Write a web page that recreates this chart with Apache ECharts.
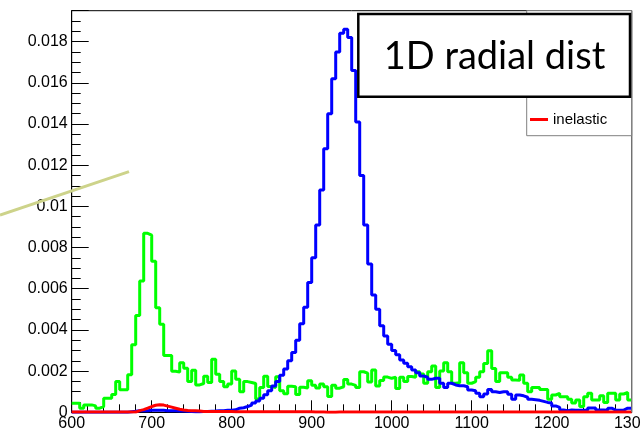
<!DOCTYPE html>
<html>
<head>
<meta charset="utf-8">
<script src="https://cdn.jsdelivr.net/npm/echarts@6/dist/echarts.min.js"></script>
<style>
  html, body { margin: 0; padding: 0; background: #fff; overflow: hidden; }
  /* slightly wider than the window so the last x label gets cut like the original */
  #main { width: 660px; height: 441px; }
</style>
</head>
<body>
<div id="main"></div>
<script>
// histogram bins: 5 units wide, lower edges from 600 to 1295
var binStart = 600;
var binWidth = 5;

var green = [
  0.00044, 0.00044, 0.00020, 0.00036, 0.00036, 0.00031, 0.00020, 0.00028, 0.00068, 0.00068,
  0.00087, 0.00149, 0.00109, 0.00109, 0.00182, 0.00328, 0.00470, 0.00637, 0.00869, 0.00860,
  0.00734, 0.00508, 0.00427, 0.00276, 0.00276, 0.00199, 0.00195, 0.00240, 0.00214, 0.00149,
  0.00204, 0.00133, 0.00140, 0.00175, 0.00145, 0.00257, 0.00185, 0.00149, 0.00124, 0.00137,
  0.00200, 0.00160, 0.00100, 0.00149, 0.00145, 0.00140, 0.00065, 0.00120, 0.00175, 0.00125,
  0.00120, 0.00173, 0.00105, 0.00090, 0.00126, 0.00124, 0.00086, 0.00122, 0.00118, 0.00153,
  0.00131, 0.00118, 0.00137, 0.00124, 0.00077, 0.00131, 0.00117, 0.00124, 0.00159, 0.00137,
  0.00131, 0.00120, 0.00197, 0.00190, 0.00147, 0.00205, 0.00128, 0.00155, 0.00171, 0.00165,
  0.00170, 0.00116, 0.00170, 0.00149, 0.00174, 0.00170, 0.00197, 0.00186, 0.00141, 0.00197,
  0.00225, 0.00121, 0.00200, 0.00241, 0.00197, 0.00141, 0.00144, 0.00241, 0.00192, 0.00141,
  0.00149, 0.00170, 0.00197, 0.00237, 0.00299, 0.00213, 0.00149, 0.00192, 0.00192, 0.00170,
  0.00157, 0.00155, 0.00181, 0.00141, 0.00100, 0.00121, 0.00121, 0.00111, 0.00111, 0.00063,
  0.00084, 0.00092, 0.00076, 0.00076, 0.00063, 0.00045, 0.00060, 0.00028, 0.00076, 0.00092,
  0.00060, 0.00060, 0.00080, 0.00048, 0.00092, 0.00092, 0.00060, 0.00089, 0.00096, 0.00060
];

var blue = [
  0, 0, 0, 0, 0, 0, 0, 0, 0, 0,
  0, 0, 0, 0, 0.00003, 0.00005, 0.00008, 0.00008, 0.00008, 0.00010,
  0.00010, 0.00010, 0.00010, 0.00008, 0.00008, 0.00008, 0.00006, 0.00006, 0.00005, 0.00004,
  0.00003, 0.00003, 0.00004, 0.00004, 0.00005, 0.00006, 0.00008, 0.00008, 0.00010, 0.00010,
  0.00012, 0.00020, 0.00022, 0.00028, 0.00035, 0.00045, 0.00055, 0.00068, 0.00085, 0.00105,
  0.00128, 0.00150, 0.00180, 0.00210, 0.00250, 0.00290, 0.00350, 0.00430, 0.00510, 0.00630,
  0.00750, 0.00910, 0.01080, 0.01280, 0.01450, 0.01620, 0.01750, 0.01840, 0.01860, 0.01820,
  0.01660, 0.01410, 0.01150, 0.00910, 0.00720, 0.00570, 0.00500, 0.00420, 0.00370, 0.00330,
  0.00300, 0.00280, 0.00254, 0.00238, 0.00221, 0.00205, 0.00192, 0.00176, 0.00170, 0.00160,
  0.00165, 0.00165, 0.00141, 0.00121, 0.00141, 0.00133, 0.00129, 0.00129, 0.00124, 0.00108,
  0.00105, 0.00092, 0.00076, 0.00089, 0.00111, 0.00100, 0.00096, 0.00100, 0.00100, 0.00088,
  0.00063, 0.00084, 0.00080, 0.00073, 0.00063, 0.00061, 0.00058, 0.00053, 0.00048, 0.00045,
  0.00031, 0.00024, 0.00011, 0.00008, 0.00011, 0.00010, 0.00010, 0.00010, 0.00010, 0.00021,
  0.00021, 0.00011, 0.00011, 0.00010, 0.00020, 0.00011, 0.00010, 0.00011, 0.00020, 0.00020
];

var red = [
  0.00001, 0.00001, 0.00001, 0.00001, 0.00001, 0.00001, 0.00001, 0.00001, 0.00001, 0.00001,
  0.00001, 0.00001, 0.00001, 0.00001, 0.00001, 0.00001, 0.00008, 0.00013, 0.00020, 0.00028,
  0.00034, 0.00037, 0.00035, 0.00030, 0.00025, 0.00020, 0.00015, 0.00011, 0.00009, 0.00008,
  0.00007, 0.00006, 0.00004, 0.00004, 0.00004, 0.00004, 0.00004, 0.00004, 0.00004, 0.00004,
  0.00003, 0.00003, 0.00003, 0.00003, 0.00003, 0.00003, 0.00003, 0.00003, 0.00003, 0.00003,
  0.00003, 0.00003, 0.00003, 0.00003, 0.00003, 0.00003, 0.00003, 0.00003, 0.00003, 0.00003,
  0.00002, 0.00002, 0.00002, 0, 0, 0, 0.00002, 0.00002, 0.00002, 0.00002,
  0.00001, 0.00001, 0.00001, 0.00001, 0.00001, 0.00001, 0.00001, 0.00001, 0.00001, 0.00001,
  0.00001, 0.00001, 0.00001, 0.00001, 0.00001, 0.00001, 0.00001, 0.00001, 0.00001, 0.00001,
  0.00001, 0.00001, 0.00001, 0.00001, 0.00001, 0.00001, 0.00001, 0.00001, 0.00001, 0.00001,
  0.00001, 0.00001, 0.00001, 0.00001, 0.00001, 0.00001, 0.00001, 0.00001, 0.00001, 0.00001,
  0.00001, 0.00001, 0.00001, 0.00001, 0.00001, 0.00001, 0.00001, 0.00001, 0.00001, 0.00001,
  0.00001, 0.00001, 0.00001, 0.00001, 0.00001, 0.00001, 0.00001, 0.00001, 0.00001, 0.00001,
  0.00001, 0.00001, 0.00001, 0.00001, 0.00001, 0.00001, 0.00001, 0.00001, 0.00001, 0.00001
];

var legendNames = ['inelastic'];
var titleText = '1D radial dist';

// bins -> step points (lower edge, content) plus closing point at last upper edge
function toSteps(vals) {
  var pts = [];
  for (var i = 0; i < vals.length; i++) {
    pts.push([binStart + i * binWidth, vals[i]]);
  }
  pts.push([binStart + vals.length * binWidth, vals[vals.length - 1]]);
  return pts;
}

var font = '"Liberation Sans", Arial, Helvetica, sans-serif';
var chart = echarts.init(document.getElementById('main'), null, { renderer: 'canvas' });

var option = {
  animation: false,
  backgroundColor: '#fff',
  grid: {
    left: 71.7, right: 28.3, top: 10.7, bottom: 28.7,
    show: true, borderColor: '#000', borderWidth: 1, backgroundColor: 'transparent'
  },
  xAxis: {
    type: 'value', min: 600, max: 1300, interval: 100,
    axisLine: { lineStyle: { color: '#000', width: 1 } },
    axisTick: { inside: true, length: 12, lineStyle: { color: '#000' } },
    minorTick: { show: true, splitNumber: 5, length: 8, lineStyle: { color: '#000' } },
    splitLine: { show: false },
    axisLabel: {
      color: '#000', fontFamily: font, fontSize: 16, margin: 3,
      formatter: function (v) { return String(v); }
    }
  },
  yAxis: {
    type: 'value', min: 0, max: 0.0195, interval: 0.002,
    axisLine: { show: true, lineStyle: { color: '#000', width: 1 } },
    axisTick: { inside: true, length: 17, lineStyle: { color: '#000' } },
    minorTick: { show: true, splitNumber: 4, length: 9, lineStyle: { color: '#000' } },
    splitLine: { show: false },
    axisLabel: {
      color: '#000', fontFamily: font, fontSize: 16, margin: 4, showMaxLabel: false,
      formatter: function (v) { return String(+v.toFixed(4)); }
    }
  },
  legend: {
    left: 530, top: 112, padding: 0, z: 6,
    itemWidth: 18, itemHeight: 3, itemGap: 4,
    textStyle: { fontFamily: font, fontSize: 15, color: '#000' },
    data: [{ name: legendNames[0], icon: 'rect' }]
  },
  series: [
    {
      name: 'green', type: 'line', step: 'end', showSymbol: false, z: 2,
      lineStyle: { color: '#00ff00', width: 3 }, itemStyle: { color: '#00ff00' },
      data: toSteps(green)
    },
    {
      name: 'blue', type: 'line', step: 'end', showSymbol: false, z: 3,
      lineStyle: { color: '#0000ff', width: 3 }, itemStyle: { color: '#0000ff' },
      data: toSteps(blue)
    },
    {
      name: legendNames[0], type: 'line', step: 'end', showSymbol: false, z: 4,
      lineStyle: { color: '#ff0000', width: 3 }, itemStyle: { color: '#ff0000' },
      data: toSteps(red)
    }
  ],
  graphic: [
    {
      // legend frame
      type: 'rect', z: 5,
      shape: { x: 526.7, y: 10.7, width: 105, height: 125 },
      style: { fill: '#fff', stroke: '#808080', lineWidth: 1 }
    },
    {
      // right frame edge is grey in the original
      type: 'line', z: 5,
      shape: { x1: 631.7, y1: 10.7, x2: 631.7, y2: 412.3 },
      style: { stroke: '#808080', lineWidth: 1 }
    },
    {
      // overlay title box
      type: 'rect', z: 7,
      shape: { x: 358.3, y: 14, width: 271.7, height: 82.7 },
      style: { fill: '#fff', stroke: '#000', lineWidth: 2.5 }
    },
    {
      type: 'text', z: 8, x: 494.5, y: 57,
      style: {
        text: titleText, fill: '#000', fontSize: 38, fontFamily: 'Lato, "Open Sans", sans-serif',
        align: 'center', verticalAlign: 'middle'
      }
    },
    {
      // annotation stroke
      type: 'line', z: 9,
      shape: { x1: 0, y1: 215, x2: 129, y2: 171.7 },
      style: { stroke: '#cdd38a', lineWidth: 3 }
    }
  ]
};

chart.setOption(option);
</script>
</body>
</html>
